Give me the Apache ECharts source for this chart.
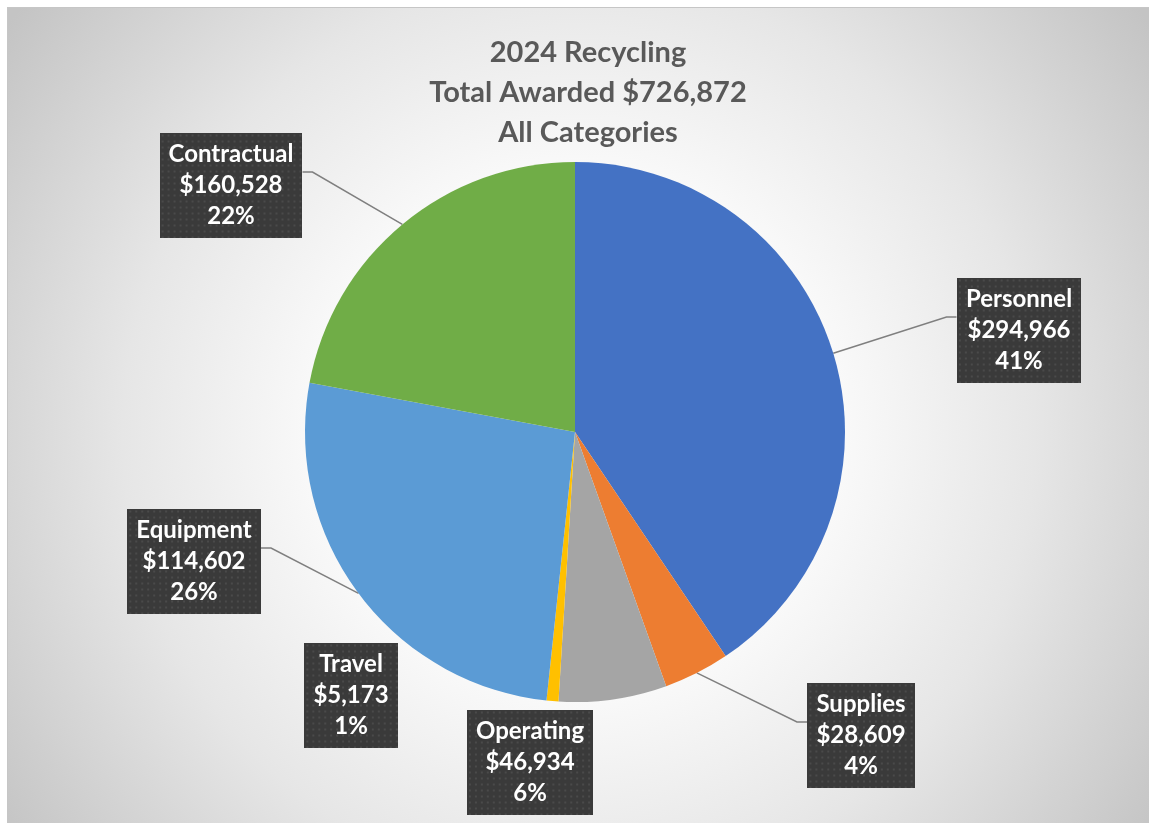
<!DOCTYPE html>
<html>
<head>
<meta charset="utf-8">
<title>2024 Recycling</title>
<script src="https://cdn.jsdelivr.net/npm/echarts@6/dist/echarts.min.js"></script>
<style>
    html, body { margin: 0; padding: 0; background: #fff; }
    #chart {
        position: absolute; left: 7px; top: 7px;
        width: 1142px; height: 816px;
        border-top: 1px solid #c6c6c6; border-left: 1px solid #c6c6c6;
    }
</style>
</head>
<body>
<div id="chart"></div>
<script>
//数据
var categories = ['Personnel', 'Supplies', 'Operating', 'Travel', 'Equipment', 'Contractual'];
// slice sizes (Equipment slice is drawn at its 26% share of the total)
var amounts = [294966, 28609, 46934, 5173, 190662, 160528];
// dollar figures printed in the labels
var labelAmounts = [294966, 28609, 46934, 5173, 114602, 160528];
var colors = ['#4472C4', '#ED7D31', '#A5A5A5', '#FFC000', '#5B9BD5', '#70AD47'];

//标签位置 (box centre x, y, has leader line)
var labelPos = [
    [1011, 322, true],
    [853, 727, true],
    [522, 754, false],
    [343, 687, false],
    [186, 553, true],
    [223, 177, true]
];

var LABEL_FONT = 'Lato, "Open Sans", sans-serif';
var FONT_SIZE = 24, LINE_H = 31, PAD_V = 6, PAD_H = 9;

function money(v) {
    return '$' + v.toLocaleString('en-US');
}

var total = 0;
amounts.forEach(function(v) { total += v; });

//标签背景纹理
var measureCtx = document.createElement('canvas').getContext('2d');
measureCtx.font = 'bold ' + FONT_SIZE + 'px ' + LABEL_FONT;
var boxWidths = [];

function textureFor(lines, i) {
    var w = 0;
    lines.forEach(function(s) { w = Math.max(w, measureCtx.measureText(s).width); });
    var cw = Math.ceil(w) + PAD_H * 2, ch = LINE_H * lines.length + PAD_V * 2;
    boxWidths[i] = cw;
    var c = document.createElement('canvas');
    c.width = cw; c.height = ch;
    var g = c.getContext('2d');
    g.fillStyle = '#3a3a3a';
    g.fillRect(0, 0, cw, ch);
    g.fillStyle = '#4a4a4a';
    for (var y = 2; y < ch; y += 6) {
        for (var x = 2; x < cw; x += 6) g.fillRect(x, y, 2, 2);
    }
    return c;
}

var seriesData = categories.map(function(name, i) {
    var pct = Math.round(amounts[i] / total * 100);
    var lines = [name, money(labelAmounts[i]), pct + '%'];
    return {
        name: name,
        value: amounts[i],
        itemStyle: { color: colors[i] },
        label: { backgroundColor: { image: textureFor(lines, i) } },
        labelLine: { show: labelPos[i][2] }
    };
});

var myChart = echarts.init(document.getElementById('chart'));

var option = {
    backgroundColor: {
        type: 'radial', x: 0.5, y: 0.52, r: 0.86,
        colorStops: [
            { offset: 0, color: '#ffffff' },
            { offset: 0.35, color: '#fbfbfb' },
            { offset: 0.65, color: '#e6e6e6' },
            { offset: 1, color: '#c4c4c4' }
        ]
    },
    title: {
        text: '2024 Recycling\nTotal Awarded ' + money(total) + '\nAll Categories',
        left: 575,
        top: 20,
        textAlign: 'center',
        textStyle: {
            fontFamily: LABEL_FONT,
            fontSize: 29,
            fontWeight: 'bold',
            lineHeight: 40,
            color: '#595959'
        }
    },
    series: [{
        type: 'pie',
        center: [567, 424],
        radius: 270,
        startAngle: 90,
        clockwise: true,
        avoidLabelOverlap: false,
        animation: false,
        data: seriesData,
        label: {
            show: true,
            position: 'outside',
            formatter: function(p) {
                return p.name + '\n' + money(labelAmounts[p.dataIndex]) + '\n' + Math.round(p.percent) + '%';
            },
            fontFamily: LABEL_FONT,
            fontSize: FONT_SIZE,
            fontWeight: 'bold',
            lineHeight: LINE_H,
            color: '#ffffff',
            align: 'center',
            padding: [PAD_V, PAD_H],
            shadowBlur: 6,
            shadowOffsetX: 3,
            shadowOffsetY: 3,
            shadowColor: 'rgba(0,0,0,0.45)'
        },
        labelLine: {
            lineStyle: { color: '#7f7f7f', width: 1.5 }
        },
        labelLayout: function(p) {
            var pos = labelPos[p.dataIndex];
            var res = { x: pos[0], y: pos[1], align: 'center', verticalAlign: 'middle' };
            var start = p.labelLinePoints && p.labelLinePoints[0];
            if (start && pos[2]) {
                var side = pos[0] > start[0] ? -1 : 1;
                var ax = pos[0] + side * boxWidths[p.dataIndex] / 2;
                var ay = pos[1] - 13;
                res.labelLinePoints = [start, [ax + side * 10, ay], [ax, ay]];
            }
            return res;
        }
    }]
};

myChart.setOption(option, true);
</script>
</body>
</html>
